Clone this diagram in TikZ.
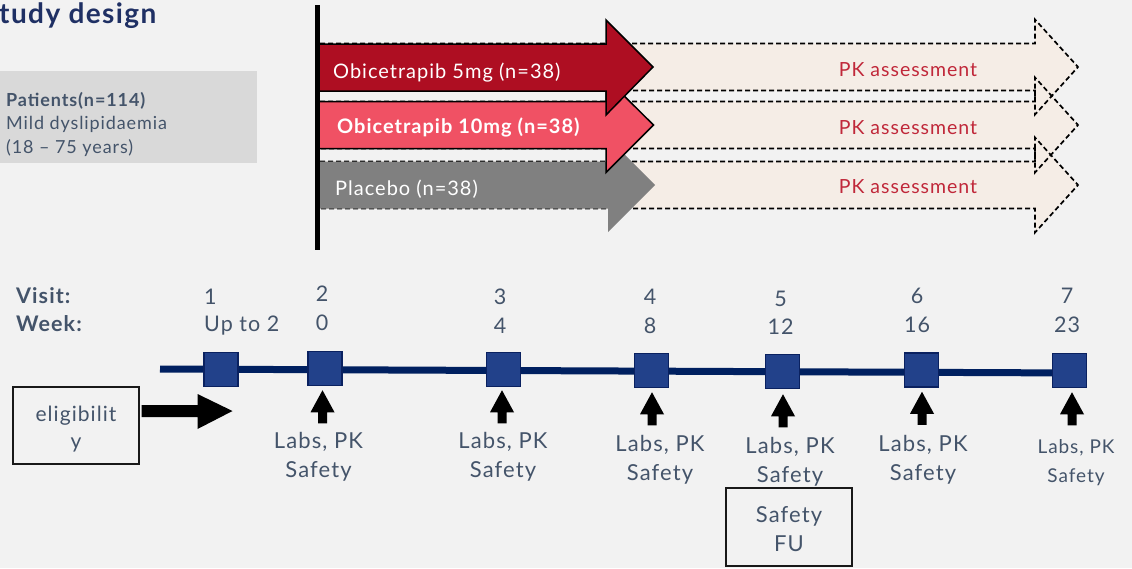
\documentclass[tikz,border=0pt]{standalone}
\usepackage{fontspec}
\setmainfont{Lato}[LetterSpace=5]
\usetikzlibrary{calc}
\definecolor{bg}{HTML}{F2F2F2}
\definecolor{txt}{HTML}{44546A}
\definecolor{navy}{HTML}{1F3064}
\definecolor{dred}{HTML}{AE0E22}
\definecolor{pinkc}{HTML}{F05164}
\definecolor{greyc}{HTML}{808080}
\definecolor{pkred}{HTML}{C0283A}
\definecolor{beige}{HTML}{F5EDE6}
\definecolor{sqfill}{HTML}{22418A}
\definecolor{sqline}{HTML}{0A2160}
\definecolor{tlc}{HTML}{002060}
\definecolor{boxgrey}{HTML}{D9D9D9}
\newcommand\fsA{\fontsize{22}{26}\selectfont}
\newcommand\fsN{\fontsize{21.5}{26}\selectfont}
\newcommand\fsB{\fontsize{18}{22}\selectfont}
\newcommand\fsC{\fontsize{20}{24}\selectfont}
\newcommand\fsP{\fontsize{19.5}{24}\selectfont}
\newcommand\fsS{\fontsize{19}{23}\selectfont}
\begin{document}
\begin{tikzpicture}[x=1pt,y=-1pt]
\tikzset{
  every node/.style={inner sep=0pt, text=txt},
  lbl/.style={font=\fsA, anchor=base},
  num/.style={font=\fsN, anchor=base},
  sq/.style={draw=sqline, line width=1.5pt, fill=sqfill, minimum size=34pt},
  pkline/.style={draw=black, line width=1.7pt, dash pattern=on 5pt off 3pt},
  armlbl/.style={font=\fsC, text=white, anchor=base west},
  pklbl/.style={font=\fsP, text=pkred, anchor=base},
  framebox/.style={draw=black!90, line width=2pt, minimum width=126pt, minimum height=77pt}
}
\useasboundingbox (0,0) rectangle (1132,568);
\fill[bg] (0,0) rectangle (1132,568);

% title
\node[font=\fontsize{28}{30}\selectfont\bfseries, text=navy, anchor=base west] (title) at (-1,23) {tudy design};

% patients box
\fill[boxgrey] (0,71) rectangle (257,163);
\node[font=\fsB\bfseries, anchor=base west] (pat1) at (6,106) {Patients(n=114)};
\node[font=\fsB, anchor=base west] (pat2) at (6,129) {Mild dyslipidaemia};
\node[font=\fsB, anchor=base west] (pat3) at (6,153) {(18 – 75 years)};

% dashed PK arrows
\foreach \c in {67,125,185}{
  \fill[beige] (320,\c-23.5) -- (1035,\c-23.5) -- (1035,\c-47.5) -- (1078,\c) -- (1035,\c+47.5) -- (1035,\c+23.5) -- (320,\c+23.5) -- cycle;
}
\foreach \c in {67,125,185}{
  \draw[pkline] (320,\c-23.5) -- (1035,\c-23.5) -- (1035,\c-47.5) -- (1078,\c) -- (1035,\c+47.5) -- (1035,\c+23.5) -- (320,\c+23.5) -- cycle;
}
\node[pklbl] (pk1) at (908,76) {PK assessment};
\node[pklbl] (pk2) at (908,134) {PK assessment};
\node[pklbl] (pk3) at (908,193) {PK assessment};

% solid arms
\fill[greyc] (317,161.5) -- (608,161.5) -- (608,138) -- (655,185) -- (608,232) -- (608,208.5) -- (317,208.5) -- cycle;
\filldraw[fill=pinkc, draw=black, line width=1.5pt] (317,101.5) -- (606,101.5) -- (606,78) -- (653.5,125) -- (606,172.5) -- (606,148.5) -- (317,148.5) -- cycle;
\filldraw[fill=dred, draw=black, line width=1.5pt] (317,44) -- (606,44) -- (606,20) -- (653,67) -- (606,115) -- (606,91) -- (317,91) -- cycle;
\node[armlbl] (arm1) at (333,78) {Obicetrapib 5mg (n=38)};
\node[armlbl, font=\fsC\bfseries] (arm2) at (337,133) {Obicetrapib 10mg (n=38)};
\node[armlbl] (arm3) at (335,195) {Placebo (n=38)};

\draw[line width=5pt] (317,5) -- (317,250);

% visit / week header
\node[num, font=\fsN\bfseries, anchor=base west] (visitlbl) at (16,303) {Visit:};
\node[num, font=\fsN\bfseries, anchor=base west] (weeklbl) at (16,331) {Week:};

% timeline
\coordinate (tlstart) at (160,369);
\coordinate (tlend) at (1080,373);
\draw[tlc, line width=7pt] (tlstart) -- (tlend);

\node[sq] (v1) at (221,369.5) {};
\node[sq] (v2) at (325,368.5) {};
\node[sq] (v3) at (503.5,369.5) {};
\node[sq] (v4) at (651.5,370.5) {};
\node[sq] (v5) at (782.5,371.5) {};
\node[sq] (v6) at (921.5,370) {};
\node[sq] (v7) at (1069.5,370.5) {};

% numbers
\node[num, anchor=base west] (n1) at (204,304) {1};
\node[num, anchor=base west] (w1) at (204,331.5) {Up to 2};
\node[num] (n2) at (322,301) {2};
\node[num] (w2) at (322,330) {0};
\node[num] (n3) at (500,304) {3};
\node[num] (w3) at (500,333) {4};
\node[num] (n4) at (650,304) {4};
\node[num] (w4) at (650,333) {8};
\node[num] (n5) at (780.5,306) {5};
\node[num] (w5) at (780.5,334) {12};
\node[num] (n6) at (917,303) {6};
\node[num] (w6) at (917,332) {16};
\node[num] (n7) at (1067,303) {7};
\node[num] (w7) at (1067,332) {23};

% up arrows
\foreach \v/\dx/\dy in {v2/-2.5/4, v3/-1.5/3, v4/0.5/4, v5/0.5/5, v6/0.5/4, v7/2.5/4}{
  \coordinate (t\v) at ($(\v.south)+(\dx,\dy)$);
  \fill[black] (t\v) -- ++(12,22) -- ++(-7.5,0) -- ++(0,11) -- ++(-9,0) -- ++(0,-11) -- ++(-7.5,0) -- cycle;
}

% labels below
\node[lbl] (l2a) at (318.5,448) {Labs, PK};
\node[lbl] (l2b) at (318.5,477) {Safety};
\node[lbl] (l3a) at (503,448) {Labs, PK};
\node[lbl] (l3b) at (503,477) {Safety};
\node[lbl] (l4a) at (660,451) {Labs, PK};
\node[lbl] (l4b) at (660,480) {Safety};
\node[lbl] (l5a) at (790,453) {Labs, PK};
\node[lbl] (l5b) at (790,482) {Safety};
\node[lbl] (l6a) at (923,451) {Labs, PK};
\node[lbl] (l6b) at (923,480) {Safety};
\node[lbl, font=\fsS] (l7a) at (1076,453) {Labs, PK};
\node[lbl, font=\fsS] (l7b) at (1076,482) {Safety};

% eligibility
\node[framebox] (elig) at (75.5,425.5) {};
\node[num, font=\fontsize{21}{25}\selectfont] (e1) at (76,421) {eligibilit};
\node[num, font=\fontsize{21}{25}\selectfont] (e2) at (76,448) {y};
\coordinate (ea) at ($(elig.east)+(2,-14.5)$);
\fill[black] (ea) -- ++(0,-6) -- ++(56,0) -- ++(0,-11) -- ++(35,17) -- ++(-35,18) -- ++(0,-12) -- ++(-56,0) -- cycle;

% safety FU
\node[framebox, minimum height=78pt] (fu) at (789,527) {};
\node[lbl] (fu1) at (789,522) {Safety};
\node[lbl] (fu2) at (789,551) {FU};
\end{tikzpicture}
\end{document}
